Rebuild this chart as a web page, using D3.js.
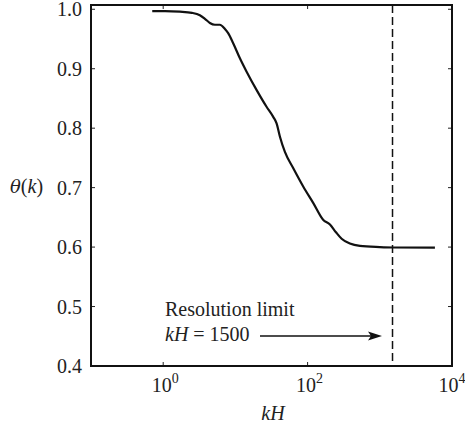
<!DOCTYPE html>
<html><head><meta charset="utf-8">
<script src="https://cdn.jsdelivr.net/npm/d3@7"></script>
<style>body{margin:0;background:#fff}svg{display:block}</style>
</head><body><svg id="c" width="465" height="427"></svg>
<script>
const kH = [0.705,1.06,1.70,2.50,3.22,3.78,4.43,5.20,6.10,7.16,7.94,9.32,11.5,14.3,19.7,27.0,33.4,37.2,41.3,48.5,63.1,86.9,120,164,204,247,296,385,530,1000,1534,5800];
const theta = [0.997,0.997,0.996,0.994,0.990,0.984,0.977,0.974,0.974,0.967,0.960,0.943,0.918,0.895,0.864,0.836,0.819,0.808,0.786,0.760,0.733,0.702,0.674,0.646,0.638,0.625,0.614,0.606,0.602,0.600,0.5993,0.599];
const xTicks = [1,100,10000];
const xTickExp = ["0","2","4"];
const yTicks = [0.4,0.5,0.6,0.7,0.8,0.9,1.0];
const resolutionLimit = 1500;

const svg = d3.select("#c");
const L=91,R=452,T=5,B=366;
const x = d3.scaleLog().domain([0.1,1e4]).range([L,R]);
const y = d3.scaleLinear().domain([0.4,1.0072]).range([B,T]);
const FONT = "Liberation Serif";
function txt(sel){ return sel.append("text").attr("font-family",FONT).attr("font-size",20).attr("fill","#222"); }

xTicks.forEach((t,i)=>{
  svg.append("line").attr("x1",x(t)).attr("x2",x(t)).attr("y1",B).attr("y2",B-4).attr("stroke","#222").attr("stroke-width",1);
  svg.append("line").attr("x1",x(t)).attr("x2",x(t)).attr("y1",T).attr("y2",T+4).attr("stroke","#222").attr("stroke-width",1);
  const tx = txt(svg).attr("x",x(t)+2 - (i===2?2:0)).attr("y",392).attr("text-anchor","middle");
  tx.append("tspan").text("10");
  tx.append("tspan").attr("dy",-9).attr("font-size",14).text(xTickExp[i]);
});
yTicks.forEach(t=>{
  svg.append("line").attr("x1",L).attr("x2",L+4).attr("y1",y(t)).attr("y2",y(t)).attr("stroke","#222").attr("stroke-width",1);
  svg.append("line").attr("x1",R).attr("x2",R-4).attr("y1",y(t)).attr("y2",y(t)).attr("stroke","#222").attr("stroke-width",1);
  txt(svg).attr("x",82).attr("y",y(t)+7).attr("text-anchor","end").text(t.toFixed(1));
});

svg.append("line").attr("x1",x(resolutionLimit)).attr("x2",x(resolutionLimit)).attr("y1",T).attr("y2",B)
  .attr("stroke","#111").attr("stroke-width",1.5).attr("stroke-dasharray","8,4");

const line = d3.line().x((d,i)=>x(kH[i])).y((d,i)=>y(theta[i])).curve(d3.curveMonotoneX);
svg.append("path").datum(kH).attr("d",line).attr("fill","none").attr("stroke","#111").attr("stroke-width",2.2).attr("stroke-linejoin","round");

svg.append("rect").attr("x",L).attr("y",T).attr("width",R-L).attr("height",B-T).attr("fill","none").attr("stroke","#111").attr("stroke-width",2);

txt(svg).attr("x",165).attr("y",316).text("Resolution limit");
const a = txt(svg).attr("x",165).attr("y",341);
a.append("tspan").attr("font-style","italic").text("kH");
a.append("tspan").text(" = 1500");
svg.append("line").attr("x1",260).attr("x2",372).attr("y1",336).attr("y2",336).attr("stroke","#111").attr("stroke-width",1.6);
svg.append("path").attr("d","M382,336 L368,331.5 L371,336 L368,340.5 Z").attr("fill","#111");

txt(svg).attr("x",273).attr("y",420).attr("text-anchor","middle").attr("font-style","italic").text("kH");
const yl = txt(svg).attr("x",10).attr("y",193);
yl.append("tspan").attr("font-style","italic").attr("font-family","DejaVu Serif").attr("font-size",18).text("θ");
yl.append("tspan").text("(");
yl.append("tspan").attr("font-style","italic").text("k");
yl.append("tspan").text(")");
</script></body></html>
